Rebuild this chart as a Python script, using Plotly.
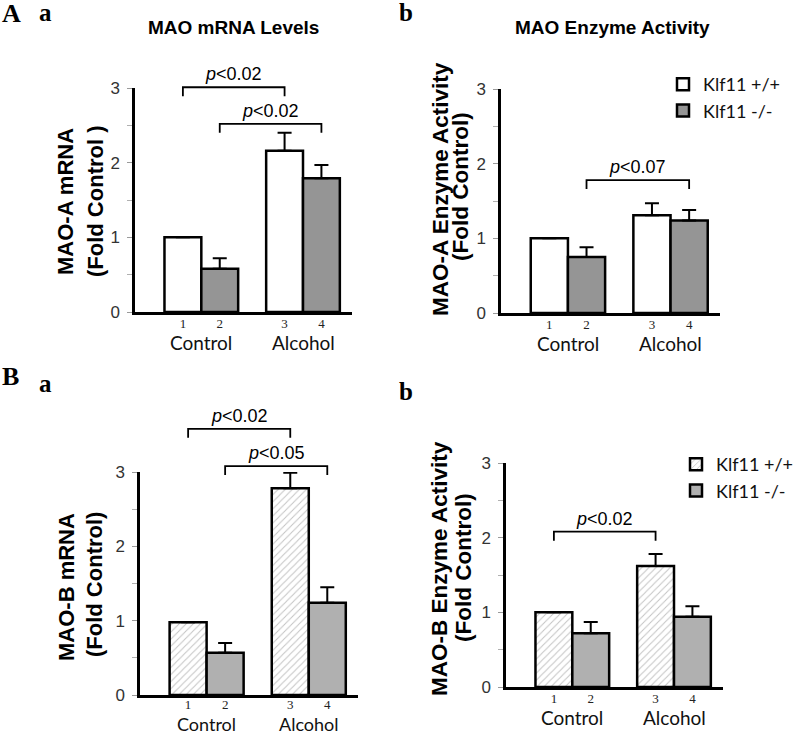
import plotly.graph_objects as go

# ---------------- data ----------------
bar_labels = ["1", "2", "3", "4"]
groups = ["Control", "Alcohol"]
series_names = ["Klf11 +/+", "Klf11 -/-"]

# Panel A a : MAO-A mRNA
aa_wt = [1.00, 2.16]
aa_wt_err = [0.0, 0.24]
aa_ko = [0.58, 1.79]
aa_ko_err = [0.14, 0.18]

# Panel A b : MAO-A enzyme activity
ab_wt = [1.00, 1.31]
ab_wt_err = [0.0, 0.16]
ab_ko = [0.75, 1.24]
ab_ko_err = [0.13, 0.14]

# Panel B a : MAO-B mRNA
ba_wt = [0.98, 2.78]
ba_wt_err = [0.0, 0.21]
ba_ko = [0.57, 1.24]
ba_ko_err = [0.13, 0.21]

# Panel B b : MAO-B enzyme activity
bb_wt = [1.00, 1.62]
bb_wt_err = [0.0, 0.16]
bb_ko = [0.72, 0.94]
bb_ko_err = [0.15, 0.14]

# significance brackets: (from bar index, to bar index, bracket height, label)
aa_sig = [(0, 2, 3.01, "0.02"), (1, 3, 2.52, "0.02")]
ab_sig = [(1, 3, 1.78, "0.07")]
ba_sig = [(0, 2, 3.58, "0.02"), (1, 3, 3.08, "0.05")]
bb_sig = [(0, 2, 2.08, "0.02")]

# ---------------- layout constants ----------------
W, H = 800, 734
bar_pos = [1.0, 2.0, 3.76, 4.76]          # x positions of bars 1..4
group_pos = [1.5, 4.26]
XR = [-0.30, 5.59]
YR = [0, 3]

def px_x(p):
    return p / W

def px_y(p):
    return 1 - p / H

panels = [
    dict(s="", xd=(135, 352), yd=(312, 88), wt=aa_wt, wte=aa_wt_err, ko=aa_ko, koe=aa_ko_err,
         sig=aa_sig, gray="#959595", hatch=False, gshift=-30, gsize=19, tstand=-2,
         yt=[("MAO-A mRNA", 66, 202), ("(Fold Control )", 95, 201)], yts=22, leg=None),
    dict(s="2", xd=(501, 720), yd=(313, 89), wt=ab_wt, wte=ab_wt_err, ko=ab_ko, koe=ab_ko_err,
         sig=ab_sig, gray="#959595", hatch=False, gshift=-30, gsize=19, tstand=-2,
         yt=[("MAO-A Enzyme Activity", 440, 189), ("(Fold Control)", 460, 186)], yts=22.5, leg="legend"),
    dict(s="3", xd=(140, 358), yd=(695, 472), wt=ba_wt, wte=ba_wt_err, ko=ba_ko, koe=ba_ko_err,
         sig=ba_sig, gray="#b0b0b0", hatch=True, gshift=-28.5, gsize=18, tstand=-4,
         yt=[("MAO-B mRNA", 66, 587), ("(Fold Control)", 94, 585)], yts=22, leg=None),
    dict(s="4", xd=(506, 723), yd=(687, 463), wt=bb_wt, wte=bb_wt_err, ko=bb_ko, koe=bb_ko_err,
         sig=bb_sig, gray="#b0b0b0", hatch=True, gshift=-30, gsize=19, tstand=-2,
         yt=[("MAO-B Enzyme Activity", 439, 568), ("(Fold Control)", 463, 568)], yts=22.5, leg="legend2"),
]

fig = go.Figure()
shapes = []
annotations = []
layout = {}

for p in panels:
    s = p["s"]
    xa = "x" + s
    ya = "y" + s
    outline = dict(color="black", width=2.5)
    wt_marker = dict(color="white", line=outline)
    if p["hatch"]:
        wt_marker["pattern"] = dict(shape="/", fgcolor="#c4c4c4", bgcolor="white",
                                    size=5, solidity=0.2, fillmode="replace")
    show = p["leg"] is not None
    err_style = dict(type="data", symmetric=False, color="black", thickness=2, width=7)
    fig.add_trace(go.Bar(
        x=[bar_pos[0], bar_pos[2]], y=p["wt"], width=1.0, name=series_names[0],
        marker=wt_marker, xaxis=xa, yaxis=ya, cliponaxis=False,
        error_y=dict(array=p["wte"], arrayminus=[0, 0], **err_style),
        showlegend=show, legend=p["leg"] if show else None, legendgroup=s + "wt",
    ))
    fig.add_trace(go.Bar(
        x=[bar_pos[1], bar_pos[3]], y=p["ko"], width=1.0, name=series_names[1],
        marker=dict(color=p["gray"], line=outline), xaxis=xa, yaxis=ya, cliponaxis=False,
        error_y=dict(array=p["koe"], arrayminus=[0, 0], **err_style),
        showlegend=show, legend=p["leg"] if show else None, legendgroup=s + "ko",
    ))

    y0, y3 = p["yd"]
    layout["xaxis" + s] = dict(
        domain=[px_x(p["xd"][0]), px_x(p["xd"][1])], range=XR, anchor=ya,
        showline=True, linecolor="black", linewidth=2.5, showgrid=False, zeroline=False,
        tickmode="array", tickvals=bar_pos, ticktext=bar_labels, ticks="", ticklen=0,
        ticklabelstandoff=p["tstand"],
        tickfont=dict(family="Liberation Serif", size=13, color="#222"),
        automargin=False, fixedrange=True,
    )
    layout["yaxis" + s] = dict(
        domain=[px_y(y0), px_y(y3)], range=YR, anchor=xa,
        showline=True, linecolor="black", linewidth=2.5, showgrid=False, zeroline=False,
        tickmode="array", tickvals=[0, 1, 2, 3], ticks="outside", ticklen=5,
        tickcolor="#9a9a9a", tickwidth=1, ticklabelstandoff=4,
        minor=dict(tickvals=[0.5, 1.5, 2.5], ticks="outside", ticklen=5,
                   tickcolor="#b0b0b0", tickwidth=1),
        tickfont=dict(family="Liberation Sans", size=17, color="#333"),
        automargin=False, fixedrange=True,
    )

    # group labels
    for g, gx in zip(groups, group_pos):
        annotations.append(dict(
            text=g, x=gx, y=0, xref=xa, yref=ya + " domain", yshift=p["gshift"],
            xanchor="center", yanchor="middle", showarrow=False,
            font=dict(family="Lato", size=p["gsize"], color="#111"),
        ))

    # significance brackets
    for i0, i1, h, lab in p["sig"]:
        yh = h / YR[1]
        yl = (h - 0.12) / YR[1]
        xa0, xa1 = bar_pos[i0], bar_pos[i1]
        shapes.append(dict(
            type="path", xref=xa, yref=ya + " domain",
            path=f"M {xa0} {yl} L {xa0} {yh} L {xa1} {yh} L {xa1} {yl}",
            line=dict(color="black", width=1.8),
        ))
        annotations.append(dict(
            text=f"<i>p</i>&lt;{lab}", x=(xa0 + xa1) / 2, y=yh, xref=xa, yref=ya + " domain",
            xanchor="center", yanchor="bottom", yshift=1, showarrow=False,
            font=dict(family="Liberation Sans", size=18, color="black"),
        ))

    # y-axis title (two rotated lines)
    for line, tx, ty in p["yt"]:
        annotations.append(dict(
            text="<b>" + line + "</b>", x=px_x(tx), y=px_y(ty), xref="paper", yref="paper",
            textangle=-90, xanchor="center", yanchor="middle", showarrow=False,
            font=dict(family="Liberation Sans", size=p["yts"], color="black"),
        ))

# panel titles
for t, (tx, ty) in [("MAO mRNA Levels", (233, 27)), ("MAO Enzyme Activity", (612, 27))]:
    annotations.append(dict(
        text="<b>" + t + "</b>", x=px_x(tx), y=px_y(ty), xref="paper", yref="paper",
        xanchor="center", yanchor="middle", showarrow=False,
        font=dict(family="Liberation Sans", size=19, color="black"),
    ))

# panel letters
for t, (tx, ty), sz in [("A", (0, 14), 26), ("a", (37, 12), 25), ("b", (397, 13), 25),
                        ("B", (0, 376), 26), ("a", (37, 383), 25), ("b", (397, 391), 25)]:
    annotations.append(dict(
        text="<b>" + t + "</b>", x=px_x(tx), y=px_y(ty), xref="paper", yref="paper",
        xanchor="left", yanchor="middle", showarrow=False,
        font=dict(family="Liberation Serif", size=sz, color="black"),
    ))

legend_style = dict(font=dict(family="Lato", size=18, color="#111"),
                    bgcolor="rgba(0,0,0,0)", borderwidth=0, traceorder="normal",
                    xanchor="left", yanchor="top", tracegroupgap=6, itemclick=False)

fig.update_layout(
    width=W, height=H, autosize=False,
    margin=dict(l=0, r=0, t=0, b=0, autoexpand=False),
    paper_bgcolor="white", plot_bgcolor="white",
    barmode="overlay",
    shapes=shapes, annotations=annotations,
    legend=dict(x=px_x(663), y=px_y(66), **legend_style),
    legend2=dict(x=px_x(676), y=px_y(446), **legend_style),
    **layout,
)

# remove the page's default body margin so the figure sits at the window origin
fig.write_html(
    "out.html",
    config={"displayModeBar": False},
    post_script="document.body.style.margin='0';document.body.style.overflow='hidden';",
)
